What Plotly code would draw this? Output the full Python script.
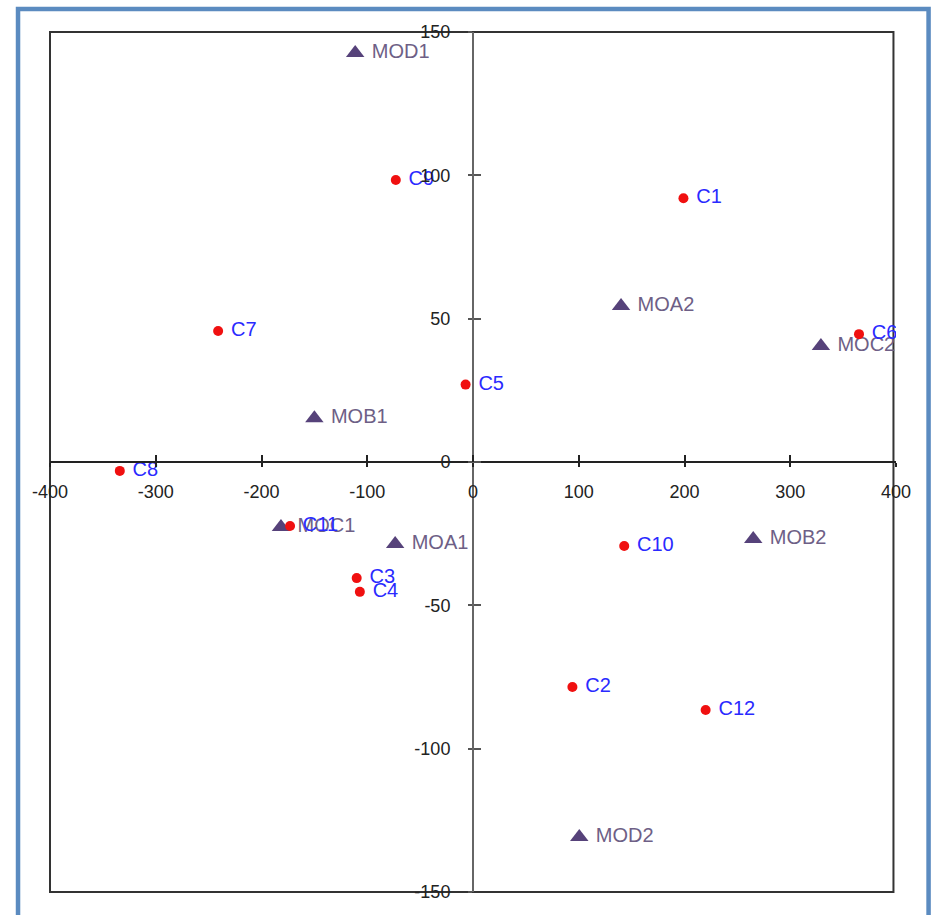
import plotly.graph_objects as go

# Sample scores (red circles)
c_labels = ["C1", "C2", "C3", "C4", "C5", "C6", "C7", "C8", "C9", "C10", "C11", "C12"]
c_x = [199, 94, -110, -107, -7, 365, -241, -334, -73, 143, -173, 220]
c_y = [92, -78.5, -40.5, -45.3, 27, 44.6, 45.7, -3.1, 98.4, -29.3, -22.3, -86.5]

# Variable scores (triangles)
mo_labels = ["MOA1", "MOA2", "MOB1", "MOB2", "MOC1", "MOC2", "MOD1", "MOD2"]
mo_x = [-73.6, 140, -150, 265, -181.6, 329, -111.4, 100.5]
mo_y = [-28.6, 54.4, 15.3, -26.9, -22.7, 40.5, 142.7, -130.8]

x_ticks = [-400, -300, -200, -100, 0, 100, 200, 300, 400]
x_ticktext = ["-400", "-300", "-200", "-100", "0", "100", "200", "300", "400"]
y_ticks = [-150, -100, -50, 0, 50, 100, 150]
y_ticktext = ["-150", "-100", "-50", "0", "50", "100", "150"]

FONT = "Liberation Sans, Arial, sans-serif"

fig = go.Figure()

fig.add_trace(go.Scatter(
    x=mo_x, y=mo_y, mode="markers+text",
    text=[" " + t for t in mo_labels], textposition="middle right",
    marker=dict(symbol="triangle-up", size=16, color="#56427a"),
    textfont=dict(family=FONT, size=20, color="#6e5f86"),
    showlegend=False, hoverinfo="skip",
))

fig.add_trace(go.Scatter(
    x=c_x, y=c_y, mode="markers+text",
    text=[" " + t for t in c_labels], textposition="middle right",
    marker=dict(symbol="circle", size=10, color="#f01010"),
    textfont=dict(family=FONT, size=20, color="#2a2aff"),
    showlegend=False, hoverinfo="skip",
))

# Empty trace that carries the companion axes (ticks on the other side)
fig.add_trace(go.Scatter(x=[], y=[], xaxis="x3", yaxis="y3",
                         showlegend=False, hoverinfo="skip"))

tickfont = dict(family=FONT, size=18, color="#222222")

fig.update_layout(
    width=931, height=915,
    margin=dict(l=50, r=35, t=32, b=23),
    paper_bgcolor="white", plot_bgcolor="white",
    xaxis=dict(range=[-400, 400], anchor="free", position=0.5,
               tickvals=x_ticks, ticktext=x_ticktext,
               ticks="outside", ticklen=4, tickwidth=1.5,
               tickcolor="#222", showline=True, linecolor="#222", linewidth=1.5,
               showgrid=False, zeroline=False, tickfont=tickfont,
               ticklabelstandoff=10, fixedrange=True),
    yaxis=dict(range=[-150, 150], anchor="free", position=0.5,
               tickvals=y_ticks, ticktext=y_ticktext,
               ticks="outside", ticklen=4, tickwidth=2,
               tickcolor="#555", showline=True, linecolor="#666", linewidth=2,
               showgrid=False, zeroline=False, tickfont=tickfont,
               ticklabelstandoff=14, fixedrange=True),
    xaxis3=dict(range=[-400, 400], overlaying="x", anchor="free", position=0.5,
                tickvals=x_ticks, ticks="inside", ticklen=7, tickwidth=1.5,
                tickcolor="#222", showticklabels=False, showline=False,
                showgrid=False, zeroline=False),
    yaxis3=dict(range=[-150, 150], overlaying="y", anchor="free", position=0.5,
                tickvals=y_ticks, ticks="inside", ticklen=7, tickwidth=2,
                tickcolor="#555", showticklabels=False, showline=False,
                showgrid=False, zeroline=False),
    shapes=[
        # plot box
        dict(type="rect", xref="paper", yref="paper", x0=0, x1=0.997, y0=0, y1=1,
             line=dict(color="#333", width=2), layer="below"),
        # outer blue frame
        dict(type="rect", xref="paper", yref="paper",
             x0=-0.0378, x1=1.0385, y0=-0.05, y1=1.0267,
             line=dict(color="#5b8bc0", width=4.5), layer="below"),
    ],
)

fig.write_html("out.html")
